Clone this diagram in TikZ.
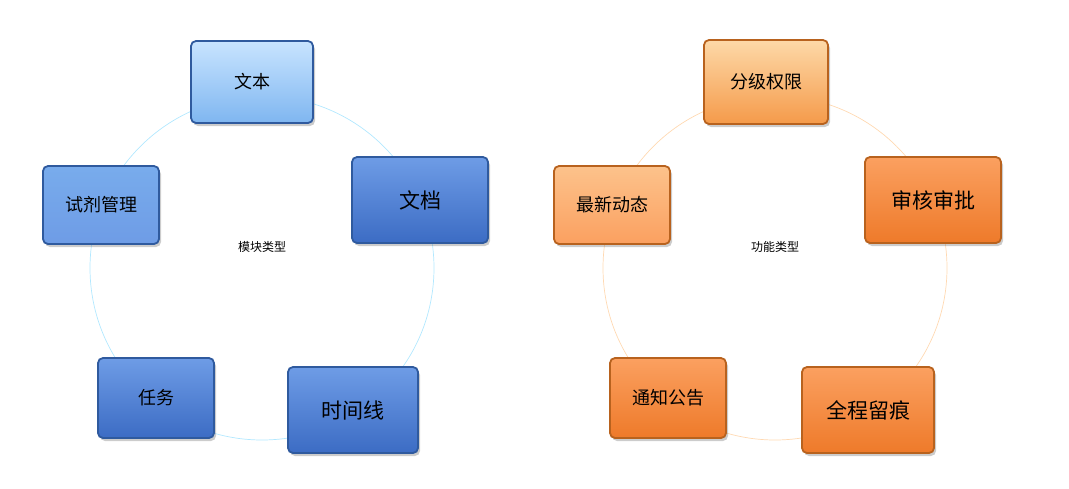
\documentclass[tikz,border=0pt]{standalone}
\usepackage{fontspec}
\newfontfamily\cjk{Noto Sans CJK SC}
\usetikzlibrary{shadows}
\definecolor{bl1t}{HTML}{C8E4FF}\definecolor{bl1b}{HTML}{7FB6F0}
\definecolor{bl2t}{HTML}{6E9CE6}\definecolor{bl2b}{HTML}{3C6CC4}
\definecolor{bld}{HTML}{2F5A9E}
\definecolor{or1t}{HTML}{FDD9A8}\definecolor{or1b}{HTML}{F59A4A}
\definecolor{or2t}{HTML}{FBA060}\definecolor{or2b}{HTML}{EE7A2A}
\definecolor{ord}{HTML}{B8621E}
\begin{document}
\begin{tikzpicture}[x=1pt,y=-1pt,
  box/.style={draw=#1,line width=1.8pt,rounded corners=5pt,font=\cjk\fontsize{18}{21}\selectfont,drop shadow={shadow xshift=2pt,shadow yshift=-3pt,opacity=0.4}},
  blue1/.style={box=bld,top color=bl1t,bottom color=bl1b},
  blue2/.style={box=bld,top color=bl2t,bottom color=bl2b},
  or1/.style={box=ord,top color=or1t,bottom color=or1b},
  or2/.style={box=ord,top color=or2t,bottom color=or2b},
  lab/.style={font=\cjk\fontsize{12}{14}\selectfont}]
\useasboundingbox (0,0) rectangle (1069,488);
\draw[blue!30!cyan!30,line width=0.7pt] (262,268) circle (172);
\draw[orange!30,line width=0.7pt] (775,268) circle (172);
\node[blue1,minimum width=122,minimum height=82] (a) at (252,82) {文本};
\node[blue1,minimum width=116,minimum height=78,top color=bl1b!60!bl2t,bottom color=bl2t] (b) at (101,205) {试剂管理};
\node[blue2,minimum width=136,minimum height=86] (c) at (420,200) {\fontsize{21}{24}\selectfont 文档};
\node[blue2,minimum width=116,minimum height=80] (d) at (156,398) {任务};
\node[blue2,minimum width=130,minimum height=86] (e) at (353,410) {\fontsize{21}{24}\selectfont 时间线};
\node[lab] (l1) at (262,247) {模块类型};
\node[or1,minimum width=124,minimum height=84] (f) at (766,82) {分级权限};
\node[or1,minimum width=116,minimum height=78,top color=or1t!60!or2t,bottom color=or2t] (g) at (612,205) {最新动态};
\node[or2,minimum width=136,minimum height=86] (h) at (933,200) {\fontsize{21}{24}\selectfont 审核审批};
\node[or2,minimum width=116,minimum height=80] (i) at (668,398) {通知公告};
\node[or2,minimum width=132,minimum height=86] (j) at (868,410) {\fontsize{21}{24}\selectfont 全程留痕};
\node[lab] (l2) at (775,247) {功能类型};
\end{tikzpicture}
\end{document}
